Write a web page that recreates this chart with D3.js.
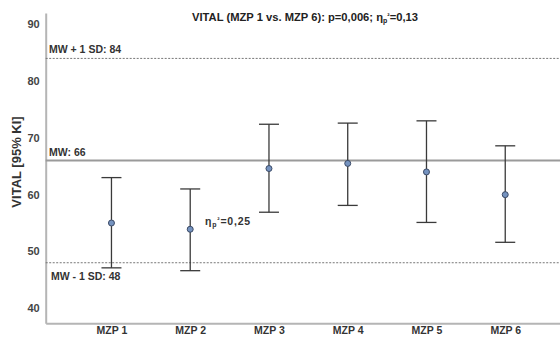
<!DOCTYPE html>
<html>
<head>
<meta charset="utf-8">
<script src="https://cdn.jsdelivr.net/npm/d3@7"></script>
<style>
  html, body { margin: 0; padding: 0; background: #fff; }
  svg text { font-family: "Liberation Sans", Arial, sans-serif; font-weight: bold; }
</style>
</head>
<body>
<svg id="chart" width="560" height="338"></svg>
<script>
// Mean VITAL score per measurement point with 95% confidence interval
const categories = ["MZP 1", "MZP 2", "MZP 3", "MZP 4", "MZP 5", "MZP 6"];
const means = [55.0, 53.9, 64.6, 65.5, 64.0, 60.0];
const ciLower = [47.1, 46.6, 56.9, 58.1, 55.1, 51.6];
const ciUpper = [63.0, 61.0, 72.4, 72.6, 73.0, 68.6];
const yTicks = [40, 50, 60, 70, 80, 90];

// Reference lines: mean and ±1 SD of the norm sample
const refValues = [84, 66, 48];
const refLabels = ["MW + 1 SD: 84", "MW: 66", "MW - 1 SD: 48"];

const svg = d3.select("#chart");
const plotLeft = 45.7, plotRight = 571, plotTop = 13, plotBottom = 323.3;

const x = d3.scalePoint().domain(categories).range([plotLeft, plotRight]).padding(0.835);
const y = d3.scaleLinear().domain([37.33, 92]).range([plotBottom, plotTop]);

// Axes (lines only, no tick marks)
const yAxis = svg.append("g").attr("transform", `translate(${plotLeft},0)`)
  .call(d3.axisLeft(y).tickValues(yTicks).tickSize(0).tickPadding(6));
yAxis.select(".domain").attr("stroke", "#b5b5b5").attr("stroke-width", 2);
yAxis.selectAll("text").attr("fill", "#444").attr("font-size", 11);

const xAxis = svg.append("g").attr("transform", `translate(0,${plotBottom})`)
  .call(d3.axisBottom(x).tickSize(0).tickPadding(3));
xAxis.select(".domain").attr("stroke", "#b5b5b5").attr("stroke-width", 2);
xAxis.selectAll("text").attr("fill", "#333").attr("font-size", 10.5);

// Reference lines
svg.append("line").attr("x1", plotLeft).attr("x2", 560)
  .attr("y1", y(refValues[0])).attr("y2", y(refValues[0]))
  .attr("stroke", "#777").attr("stroke-width", 1).attr("stroke-dasharray", "2,1.5");
svg.append("line").attr("x1", plotLeft).attr("x2", 560)
  .attr("y1", y(refValues[1])).attr("y2", y(refValues[1]))
  .attr("stroke", "#9a9a9a").attr("stroke-width", 2);
svg.append("line").attr("x1", plotLeft).attr("x2", 560)
  .attr("y1", y(refValues[2])).attr("y2", y(refValues[2]))
  .attr("stroke", "#777").attr("stroke-width", 1).attr("stroke-dasharray", "2,1.5");

svg.append("text").attr("x", 49).attr("y", y(refValues[0]) - 5)
  .attr("font-size", 10.5).attr("fill", "#333").text(refLabels[0]);
svg.append("text").attr("x", 49).attr("y", y(refValues[1]) - 5)
  .attr("font-size", 10.5).attr("fill", "#333").text(refLabels[1]);
svg.append("text").attr("x", 51).attr("y", y(refValues[2]) + 17)
  .attr("font-size", 10.5).attr("fill", "#333").text(refLabels[2]);

// Error bars
const capHalf = 10;
const bars = svg.append("g").selectAll("g").data(categories).join("g");
bars.append("line")
  .attr("x1", d => x(d)).attr("x2", d => x(d))
  .attr("y1", (d, i) => y(ciUpper[i])).attr("y2", (d, i) => y(ciLower[i]))
  .attr("stroke", "#3a3a3a").attr("stroke-width", 1.3);
bars.append("line")
  .attr("x1", d => x(d) - capHalf).attr("x2", d => x(d) + capHalf)
  .attr("y1", (d, i) => y(ciUpper[i])).attr("y2", (d, i) => y(ciUpper[i]))
  .attr("stroke", "#3a3a3a").attr("stroke-width", 1.3);
bars.append("line")
  .attr("x1", d => x(d) - capHalf).attr("x2", d => x(d) + capHalf)
  .attr("y1", (d, i) => y(ciLower[i])).attr("y2", (d, i) => y(ciLower[i]))
  .attr("stroke", "#3a3a3a").attr("stroke-width", 1.3);
bars.append("circle")
  .attr("cx", d => x(d)).attr("cy", (d, i) => y(means[i])).attr("r", 3)
  .attr("fill", "#7593c0").attr("stroke", "#3b4a66").attr("stroke-width", 1);

// Y axis title
svg.append("text")
  .attr("transform", `translate(20.5,162) rotate(-90)`)
  .attr("text-anchor", "middle").attr("font-size", 13).attr("fill", "#333")
  .text("VITAL [95% KI]");

// Title with partial eta squared
const title = svg.append("text").attr("x", 305).attr("y", 21)
  .attr("text-anchor", "middle").attr("font-size", 11.2).attr("fill", "#222");
title.append("tspan").text("VITAL (MZP 1 vs. MZP 6): p=0,006; η");
title.append("tspan").attr("font-size", 7).attr("dy", 2).text("p");
title.append("tspan").attr("font-size", 7).attr("dy", -5).text("²");
title.append("tspan").attr("dy", 3).text("=0,13");

// Effect size annotation
const ann = svg.append("text").attr("x", 205).attr("y", 225)
  .attr("font-size", 10.5).attr("fill", "#333").attr("letter-spacing", 0.8);
ann.append("tspan").text("η");
ann.append("tspan").attr("font-size", 7).attr("dy", 2).text("p");
ann.append("tspan").attr("font-size", 7).attr("dy", -5).text("²");
ann.append("tspan").attr("dy", 3).text("=0,25");
</script>
</body>
</html>
